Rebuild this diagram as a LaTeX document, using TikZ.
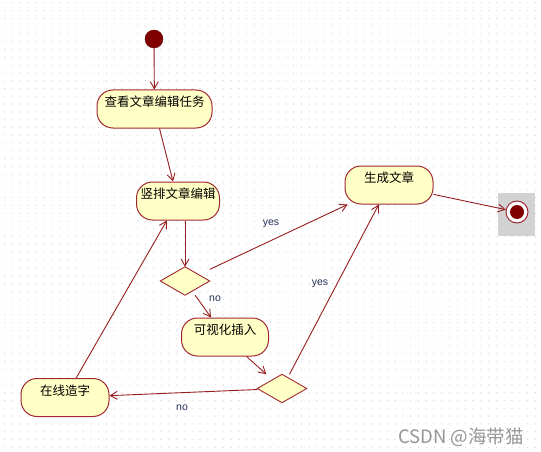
\documentclass[tikz,border=0pt]{standalone}
\usepackage{fontspec}
\setmainfont{Liberation Sans}
\newfontfamily\cjk{Noto Sans CJK SC}
\usetikzlibrary{arrows.meta,calc}
\definecolor{edgec}{RGB}{150,30,30}
\definecolor{bordc}{RGB}{160,40,50}
\definecolor{fillc}{RGB}{255,255,198}
\definecolor{lblc}{RGB}{40,50,90}
\definecolor{dotc}{RGB}{205,205,205}
\definecolor{startc}{RGB}{128,0,0}
\definecolor{wmc}{RGB}{150,150,150}
\newcommand\acttxt[1]{\raisebox{2.5pt}[0pt][0pt]{#1}}
\begin{document}
\begin{tikzpicture}[x=1pt,y=-1pt,
  act/.style={draw=bordc, fill=fillc, line width=1pt, rounded corners=16pt,
    minimum height=38pt, inner sep=0pt, font=\cjk\fontsize{12.5}{14}\selectfont},
  dec/.style={draw=none, minimum width=49pt, minimum height=28pt, inner sep=0pt},
  decline/.style={draw=bordc, fill=fillc, line width=0.9pt},
  flow/.style={draw=edgec, line width=0.9pt, -{Straight Barb[length=7pt,width=8pt]}},
  lbl/.style={text=lblc, font=\fontsize{10.5}{12}\selectfont, inner sep=0pt},
  startdot/.style={circle, draw=startc!80!black, fill=startc, minimum size=18pt, inner sep=0pt},
  endring/.style={circle, draw=bordc, fill=white, line width=1pt, minimum size=22pt, inner sep=0pt},
  wm/.style={text=wmc, font=\cjk\fontsize{18.5}{21}\selectfont, inner sep=0pt}
]
\useasboundingbox (0,0) rectangle (541,452);
\fill[white] (0,0) rectangle (541,452);
% dotted grid
\foreach \i in {0,...,69} {
  \foreach \j in {0,...,57} {
    \fill[dotc] ({5+7.8*\i},{2.7+7.8*\j}) circle (0.55);
  }
}
% selection square behind end node
\fill[gray!35] (498,193) rectangle (535,236);

% nodes
\node[startdot] (s) at (154,39) {};
\node[act, minimum width=115pt] (n1) at (154.5,109) {\acttxt{查看文章编辑任务}};
\node[act, minimum width=83pt] (n2) at (178,201) {\acttxt{竖排文章编辑}};
\node[dec] (d1) at (185,281) {};
\node[act, minimum width=88pt] (gen) at (389,185) {\acttxt{生成文章}};
\node[endring] (e) at (517,212) {};
\fill[startc] (e.center) circle (7);
\node[act, minimum width=87pt] (vis) at (225,337) {\acttxt{可视化插入}};
\node[dec] (d2) at (282,388.5) {};
\node[act, minimum width=88pt] (onl) at (65,397.5) {\acttxt{在线造字}};

\draw[decline] (d1.north) -- (d1.east) -- (d1.south) -- (d1.west) -- cycle;
\draw[decline] (d2.north) -- (d2.east) -- (d2.south) -- (d2.west) -- cycle;

% connectors
\draw[flow] (s) -- (n1);
\draw[flow] (n1) -- (n2);
\draw[flow] (n2.south -| d1.north) -- (d1.north);
\draw[flow] (d1) -- (gen);
\draw[flow] (d1) -- (vis);
\draw[flow] (vis) -- (d2);
\draw[flow] (d2) -- (gen);
\draw[flow] (d2) -- (onl);
\draw[flow] (onl) -- (n2);
\draw[flow] (gen) -- (e);

% labels
\node[lbl] (l1) at (271,224) {yes};
\node[lbl] (l2) at (215,298.5) {no};
\node[lbl] (l3) at (320,284) {yes};
\node[lbl] (l4) at (182,408) {no};

\node[wm] (w) at (461,437) {CSDN @海带猫};
\end{tikzpicture}
\end{document}
